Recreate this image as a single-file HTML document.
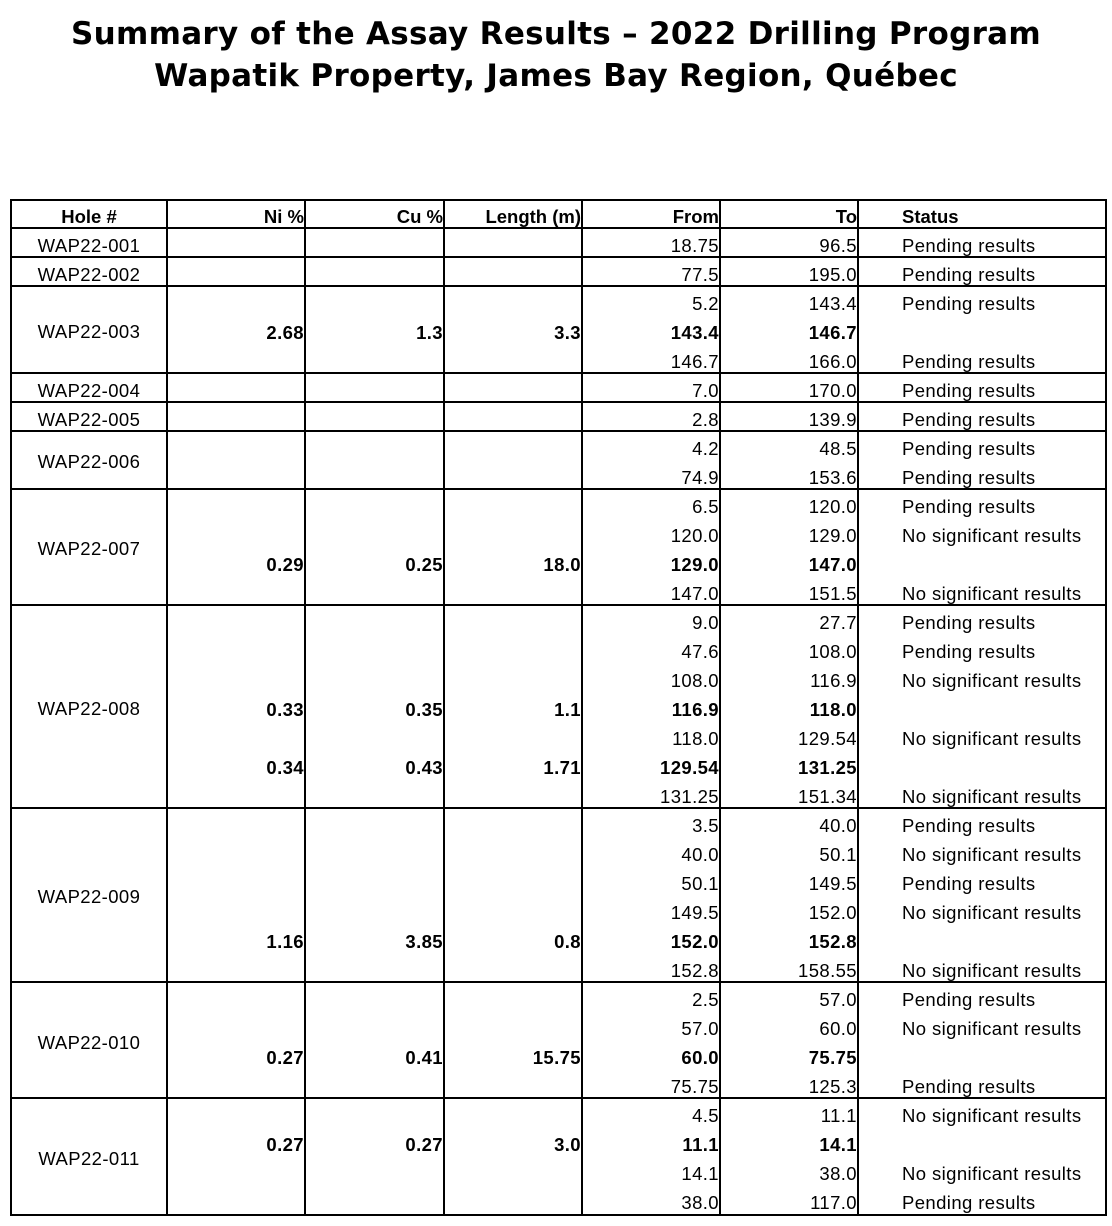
<!DOCTYPE html>
<html><head><meta charset="utf-8"><style>
body{margin:0;background:#fff;width:1112px;height:1226px;position:relative;overflow:hidden;font-family:"Liberation Sans",Arial,sans-serif;color:#000}
.t{position:absolute;left:0;width:1112px;text-align:center;font-family:"DejaVu Sans","Liberation Sans",sans-serif;font-weight:bold;font-size:31px;letter-spacing:0.3px}
.v{position:absolute;top:200px;height:1016px;width:2px;background:#000}
.h{position:absolute;left:10px;width:1097px;height:2px;background:#000}
.r{position:absolute;left:0;width:1112px;height:29px;line-height:29px;font-size:18.5px;letter-spacing:0.4px}
.r span{position:absolute;top:2px;white-space:nowrap}
.f{right:393px}.o{right:255px}.s{left:902px}
.n{right:808px}.c{right:669px}.l{right:531px}
b{font-weight:bold}
.hd{font-weight:bold;letter-spacing:0}
.lab{position:absolute;left:10px;width:158px;text-align:center;font-size:18.5px;line-height:29px;letter-spacing:0.4px}
</style></head><body>
<div class="t" style="top:16px">Summary of the Assay Results – 2022 Drilling Program</div>
<div class="t" style="top:58px">Wapatik Property, James Bay Region, Québec</div>

<div class="v" style="left:10px"></div>
<div class="v" style="left:166px"></div>
<div class="v" style="left:304px"></div>
<div class="v" style="left:443px"></div>
<div class="v" style="left:581px"></div>
<div class="v" style="left:719px"></div>
<div class="v" style="left:857px"></div>
<div class="v" style="left:1105px"></div>

<div class="h" style="top:199px"></div>
<div class="h" style="top:227px"></div>
<div class="h" style="top:256px"></div>
<div class="h" style="top:285px"></div>
<div class="h" style="top:372px"></div>
<div class="h" style="top:401px"></div>
<div class="h" style="top:430px"></div>
<div class="h" style="top:488px"></div>
<div class="h" style="top:604px"></div>
<div class="h" style="top:807px"></div>
<div class="h" style="top:981px"></div>
<div class="h" style="top:1097px"></div>
<div class="h" style="top:1214px"></div>

<div class="r hd" style="top:200px"><span style="left:10px;width:158px;text-align:center">Hole #</span><span class="n">Ni %</span><span class="c">Cu %</span><span class="l">Length (m)</span><span class="f">From</span><span class="o">To</span><span class="s">Status</span></div>

<div class="lab" style="top:231px">WAP22-001</div>
<div class="lab" style="top:260px">WAP22-002</div>
<div class="lab" style="top:317px">WAP22-003</div>
<div class="lab" style="top:376px">WAP22-004</div>
<div class="lab" style="top:405px">WAP22-005</div>
<div class="lab" style="top:447px">WAP22-006</div>
<div class="lab" style="top:534px">WAP22-007</div>
<div class="lab" style="top:694px">WAP22-008</div>
<div class="lab" style="top:882px">WAP22-009</div>
<div class="lab" style="top:1028px">WAP22-010</div>
<div class="lab" style="top:1144px">WAP22-011</div>

<div class="r" style="top:229px"><span class="f">18.75</span><span class="o">96.5</span><span class="s">Pending results</span></div>
<div class="r" style="top:258px"><span class="f">77.5</span><span class="o">195.0</span><span class="s">Pending results</span></div>
<div class="r" style="top:287px"><span class="f">5.2</span><span class="o">143.4</span><span class="s">Pending results</span></div>
<div class="r" style="top:316px"><b><span class="n">2.68</span><span class="c">1.3</span><span class="l">3.3</span><span class="f">143.4</span><span class="o">146.7</span></b></div>
<div class="r" style="top:345px"><span class="f">146.7</span><span class="o">166.0</span><span class="s">Pending results</span></div>
<div class="r" style="top:374px"><span class="f">7.0</span><span class="o">170.0</span><span class="s">Pending results</span></div>
<div class="r" style="top:403px"><span class="f">2.8</span><span class="o">139.9</span><span class="s">Pending results</span></div>
<div class="r" style="top:432px"><span class="f">4.2</span><span class="o">48.5</span><span class="s">Pending results</span></div>
<div class="r" style="top:461px"><span class="f">74.9</span><span class="o">153.6</span><span class="s">Pending results</span></div>
<div class="r" style="top:490px"><span class="f">6.5</span><span class="o">120.0</span><span class="s">Pending results</span></div>
<div class="r" style="top:519px"><span class="f">120.0</span><span class="o">129.0</span><span class="s">No significant results</span></div>
<div class="r" style="top:548px"><b><span class="n">0.29</span><span class="c">0.25</span><span class="l">18.0</span><span class="f">129.0</span><span class="o">147.0</span></b></div>
<div class="r" style="top:577px"><span class="f">147.0</span><span class="o">151.5</span><span class="s">No significant results</span></div>
<div class="r" style="top:606px"><span class="f">9.0</span><span class="o">27.7</span><span class="s">Pending results</span></div>
<div class="r" style="top:635px"><span class="f">47.6</span><span class="o">108.0</span><span class="s">Pending results</span></div>
<div class="r" style="top:664px"><span class="f">108.0</span><span class="o">116.9</span><span class="s">No significant results</span></div>
<div class="r" style="top:693px"><b><span class="n">0.33</span><span class="c">0.35</span><span class="l">1.1</span><span class="f">116.9</span><span class="o">118.0</span></b></div>
<div class="r" style="top:722px"><span class="f">118.0</span><span class="o">129.54</span><span class="s">No significant results</span></div>
<div class="r" style="top:751px"><b><span class="n">0.34</span><span class="c">0.43</span><span class="l">1.71</span><span class="f">129.54</span><span class="o">131.25</span></b></div>
<div class="r" style="top:780px"><span class="f">131.25</span><span class="o">151.34</span><span class="s">No significant results</span></div>
<div class="r" style="top:809px"><span class="f">3.5</span><span class="o">40.0</span><span class="s">Pending results</span></div>
<div class="r" style="top:838px"><span class="f">40.0</span><span class="o">50.1</span><span class="s">No significant results</span></div>
<div class="r" style="top:867px"><span class="f">50.1</span><span class="o">149.5</span><span class="s">Pending results</span></div>
<div class="r" style="top:896px"><span class="f">149.5</span><span class="o">152.0</span><span class="s">No significant results</span></div>
<div class="r" style="top:925px"><b><span class="n">1.16</span><span class="c">3.85</span><span class="l">0.8</span><span class="f">152.0</span><span class="o">152.8</span></b></div>
<div class="r" style="top:954px"><span class="f">152.8</span><span class="o">158.55</span><span class="s">No significant results</span></div>
<div class="r" style="top:983px"><span class="f">2.5</span><span class="o">57.0</span><span class="s">Pending results</span></div>
<div class="r" style="top:1012px"><span class="f">57.0</span><span class="o">60.0</span><span class="s">No significant results</span></div>
<div class="r" style="top:1041px"><b><span class="n">0.27</span><span class="c">0.41</span><span class="l">15.75</span><span class="f">60.0</span><span class="o">75.75</span></b></div>
<div class="r" style="top:1070px"><span class="f">75.75</span><span class="o">125.3</span><span class="s">Pending results</span></div>
<div class="r" style="top:1099px"><span class="f">4.5</span><span class="o">11.1</span><span class="s">No significant results</span></div>
<div class="r" style="top:1128px"><b><span class="n">0.27</span><span class="c">0.27</span><span class="l">3.0</span><span class="f">11.1</span><span class="o">14.1</span></b></div>
<div class="r" style="top:1157px"><span class="f">14.1</span><span class="o">38.0</span><span class="s">No significant results</span></div>
<div class="r" style="top:1186px"><span class="f">38.0</span><span class="o">117.0</span><span class="s">Pending results</span></div>
</body></html>
